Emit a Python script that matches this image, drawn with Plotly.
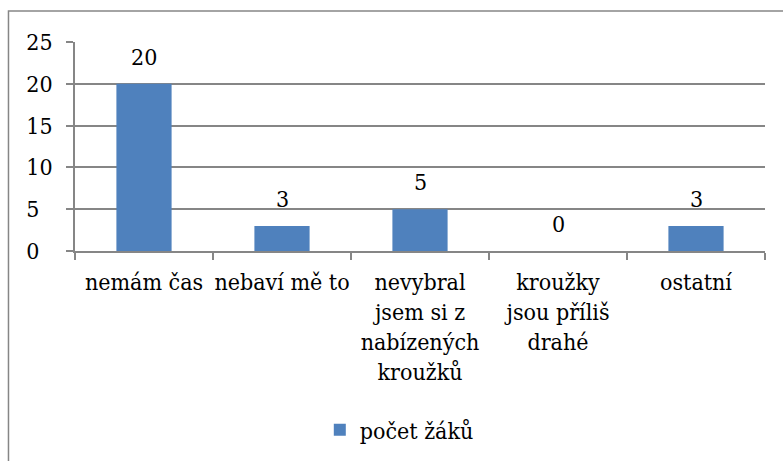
import plotly.graph_objects as go

categories = ["nemám čas", "nebaví mě to", "nevybral<br>jsem si z<br>nabízených<br>kroužků",
              "kroužky<br>jsou příliš<br>drahé", "ostatní"]
values = [20, 3, 5, 0, 3]
series_name = "počet žáků"
y_tickvals = [0, 5, 10, 15, 20, 25]
y_ticktext = ["0\u2007", "5\u2007", "10", "15", "20", "25"]

FONT = "DejaVu Serif Condensed"
FS = 23
GRAY = "#868686"
BLUE = "#4F81BD"

fig = go.Figure()
fig.add_trace(go.Bar(
    x=categories, y=values, name=series_name,
    marker=dict(color=BLUE, line=dict(width=0)),
    showlegend=True,
))

# data labels above bars, anchored to the data values
for c, v in zip(categories, values):
    fig.add_annotation(x=c, y=v, text=str(v), showarrow=False,
                       xref="x", yref="y", yanchor="middle", yshift=27,
                       font=dict(family=FONT, size=FS, color="black"))

fig.update_layout(
    width=783, height=461,
    margin=dict(l=75, r=18, t=42, b=210, autoexpand=False),
    paper_bgcolor="white", plot_bgcolor="white",
    font=dict(family=FONT, size=FS, color="black"),
    bargap=0.6,
    showlegend=True,
    legend=dict(orientation="h", x=0.47, xanchor="center", y=-0.856, yanchor="middle",
                font=dict(family=FONT, size=FS, color="black"),
                bgcolor="rgba(0,0,0,0)", itemwidth=30),
    xaxis=dict(showline=True, linecolor=GRAY, linewidth=1.5, ticks="outside",
               tickson="boundaries", ticklen=7, tickcolor=GRAY, tickwidth=1.5,
               tickangle=0, automargin=False, ticklabelstandoff=10,
               showgrid=False, tickfont=dict(family=FONT, size=FS, color="black")),
    yaxis=dict(range=[0, 25], tickvals=y_tickvals, ticktext=y_ticktext,
               showline=True, linecolor=GRAY, linewidth=1.5, automargin=False,
               ticks="outside", ticklen=7, tickcolor=GRAY, tickwidth=1.5,
               ticklabelstandoff=9,
               showgrid=True, gridcolor=GRAY, gridwidth=1.5, zeroline=False,
               tickfont=dict(family=FONT, size=FS, color="black")),
    shapes=[dict(type="rect", xref="paper", yref="paper",
                 x0=-0.0964, x1=1.1, y0=-1.2, y1=1.148,
                 line=dict(color=GRAY, width=1.5), fillcolor="rgba(0,0,0,0)", layer="below")],
)

fig.write_html("out.html", config={"displayModeBar": False},
               post_script="document.body.style.margin='0';")
